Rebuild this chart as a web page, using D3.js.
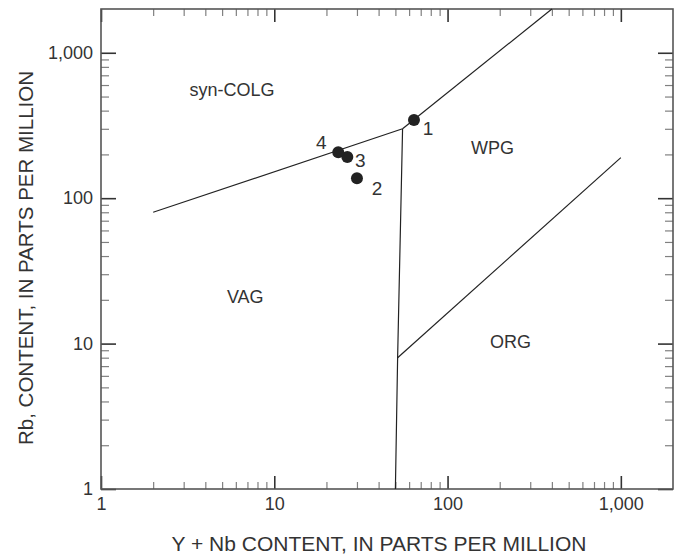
<!DOCTYPE html>
<html lang="en">
	<head>
		<meta charset="utf-8">
		<title>Rb vs Y + Nb discrimination diagram</title>
		<script type="text/javascript" src="https://cdnjs.cloudflare.com/ajax/libs/d3/7.8.5/d3.min.js"></script>
		<style type="text/css">
			body { margin: 0; background: #fff; }
			text { font-family: "Liberation Sans", Arial, sans-serif; fill: #333; }
		</style>
	</head>
	<body>
		<script type="text/javascript">

			//Axis ticks
			var majorTicks = [1, 10, 100, 1000];
			var majorLabels = ["1", "10", "100", "1,000"];
			var minorTicks = [2, 3, 4, 5, 6, 7, 8, 9, 20, 30, 40, 50, 60, 70, 80, 90, 200, 300, 400, 500, 600, 700, 800, 900];

			//Field boundaries, [Y+Nb, Rb]
			var vagColg = [[2, 80], [55, 300]];
			var colgWpg = [[55, 300], [400, 2000]];
			var vagWpg = [[55, 300], [51.5, 8], [50, 1]];
			var wpgOrg = [[51.5, 8], [1000, 190]];

			//Field names and where they sit, [Y+Nb, Rb]
			var fieldNames = ["syn-COLG", "WPG", "VAG", "ORG"];
			var fieldYNb = [5.7, 182, 6.8, 231];
			var fieldRb = [560, 222, 21, 10.3];

			//Samples
			var sampleIds = ["1", "2", "3", "4"];
			var sampleYNb = [64, 30, 26.4, 23.4];
			var sampleRb = [345, 137, 192, 207];

			//Width and height
			var w = 683;
			var h = 554;
			var margin = {top: 9, right: 10, bottom: 65, left: 101};
			var pw = w - margin.left - margin.right;
			var ph = h - margin.top - margin.bottom;

			var xScale = d3.scaleLog().domain([1, 2000]).range([0, pw]);
			var yScale = d3.scaleLog().domain([1, 2000]).range([ph, 0]);

			var svg = d3.select("body")
						.append("svg")
						.attr("width", w)
						.attr("height", h);

			var g = svg.append("g")
						.attr("transform", `translate(${margin.left},${margin.top})`);

			var fmt = d => majorLabels[majorTicks.indexOf(d)];

			//Tick marks, all pointing inward
			function styleAxis(sel, major) {
				sel.select(".domain").remove();
				sel.selectAll(".tick line")
					.attr("stroke", major ? "#333" : "#808080")
					.attr("stroke-width", major ? 1.6 : 1.2);
				sel.selectAll(".tick text")
					.attr("font-size", 18)
					.attr("font-family", null)
					.attr("fill", "#333");
			}

			var gBottom = g.append("g").attr("transform", `translate(0,${ph})`);
			gBottom.append("g").call(d3.axisBottom(xScale).tickValues(minorTicks).tickSize(-7).tickFormat("")).call(s => styleAxis(s, false));
			gBottom.append("g").call(d3.axisBottom(xScale).tickValues(majorTicks).tickSize(-13).tickPadding(8).tickFormat(fmt)).call(s => styleAxis(s, true));

			var gTop = g.append("g");
			gTop.append("g").call(d3.axisTop(xScale).tickValues(minorTicks).tickSize(-7).tickFormat("")).call(s => styleAxis(s, false));
			gTop.append("g").call(d3.axisTop(xScale).tickValues(majorTicks).tickSize(-13).tickFormat("")).call(s => styleAxis(s, true));

			var gLeft = g.append("g");
			gLeft.append("g").call(d3.axisLeft(yScale).tickValues(minorTicks).tickSize(-8).tickFormat("")).call(s => styleAxis(s, false));
			gLeft.append("g").call(d3.axisLeft(yScale).tickValues(majorTicks).tickSize(-15).tickPadding(8).tickFormat(fmt)).call(s => styleAxis(s, true));

			var gRight = g.append("g").attr("transform", `translate(${pw},0)`);
			gRight.append("g").call(d3.axisRight(yScale).tickValues(minorTicks).tickSize(-8).tickFormat("")).call(s => styleAxis(s, false));
			gRight.append("g").call(d3.axisRight(yScale).tickValues(majorTicks).tickSize(-15).tickFormat("")).call(s => styleAxis(s, true));

			//Frame
			g.append("rect")
				.attr("width", pw)
				.attr("height", ph)
				.attr("fill", "none")
				.attr("stroke", "#555")
				.attr("stroke-width", 1.6);

			//Boundaries
			var line = d3.line()
						.x(d => xScale(d[0]))
						.y(d => yScale(d[1]));

			g.selectAll("path.boundary")
				.data([vagColg, colgWpg, vagWpg, wpgOrg])
				.enter()
				.append("path")
				.attr("class", "boundary")
				.attr("d", line)
				.attr("fill", "none")
				.attr("stroke", "#222")
				.attr("stroke-width", 1.2);

			//Field names
			g.selectAll("text.field")
				.data(fieldNames)
				.enter()
				.append("text")
				.attr("class", "field")
				.attr("x", (d, i) => xScale(fieldYNb[i]))
				.attr("y", (d, i) => yScale(fieldRb[i]))
				.attr("dy", "0.36em")
				.attr("text-anchor", "middle")
				.attr("font-size", 18)
				.text(d => d);

			//Samples
			var labelDx = [14, 20, 13, -17];
			var labelDy = [8, 10, 3, -10];

			g.selectAll("circle")
				.data(sampleIds)
				.enter()
				.append("circle")
				.attr("cx", (d, i) => xScale(sampleYNb[i]))
				.attr("cy", (d, i) => yScale(sampleRb[i]))
				.attr("r", 6)
				.attr("fill", "#222");

			g.selectAll("text.sample")
				.data(sampleIds)
				.enter()
				.append("text")
				.attr("class", "sample")
				.attr("x", (d, i) => xScale(sampleYNb[i]) + labelDx[i])
				.attr("y", (d, i) => yScale(sampleRb[i]) + labelDy[i])
				.attr("dy", "0.36em")
				.attr("text-anchor", "middle")
				.attr("font-size", 19)
				.text(d => d);

			//Axis titles
			svg.append("text")
				.attr("x", 379)
				.attr("y", 551)
				.attr("text-anchor", "middle")
				.attr("font-size", 21)
				.text("Y + Nb CONTENT, IN PARTS PER MILLION");

			svg.append("text")
				.attr("transform", "translate(33,258) rotate(-90)")
				.attr("text-anchor", "middle")
				.attr("font-size", 20.5)
				.text("Rb, CONTENT, IN PARTS PER MILLION");

		</script>
	</body>
</html>
